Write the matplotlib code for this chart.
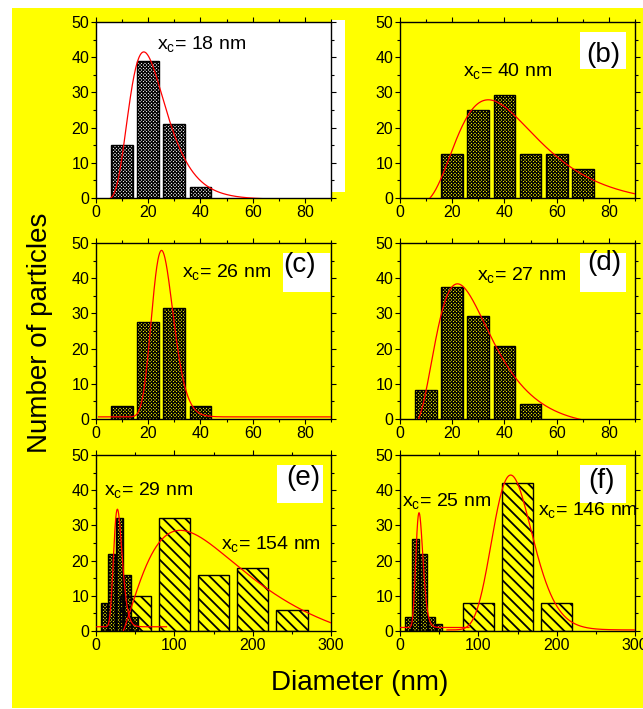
import numpy as np
import matplotlib
matplotlib.use("Agg")
import matplotlib.pyplot as plt
from matplotlib.patches import Rectangle
from matplotlib.ticker import MultipleLocator

plt.rcParams['font.family'] = ['Liberation Sans', 'DejaVu Sans']
plt.rcParams['mathtext.fontset'] = 'custom'
plt.rcParams['mathtext.rm'] = 'Liberation Sans'
plt.rcParams['mathtext.it'] = 'Liberation Sans:italic'

# ---- data ----
# small-particle histograms (bin centres in nm, counts / %)
a_x = [10, 20, 30, 40]
a_y = [15, 39, 21, 3]
b_x = [20, 30, 40, 50, 60, 70]
b_y = [12.5, 25.0, 29.2, 12.5, 12.5, 8.3]
c_x = [10, 20, 30, 40]
c_y = [3.7, 27.5, 31.5, 3.7]
d_x = [10, 20, 30, 40, 50]
d_y = [8.3, 37.5, 29.2, 20.8, 4.2]
e_small_x = [10, 20, 30, 40, 50]
e_small_y = [8, 22, 32, 16, 4]
e_large_x = [50, 100, 150, 200, 250]
e_large_y = [10, 32, 16, 18, 6]
f_small_x = [10, 20, 30, 40, 50]
f_small_y = [4, 26, 22, 4, 2]
f_large_x = [100, 150, 200]
f_large_y = [8, 42, 8]

# log-normal fit curves: peak position, log width, peak value, offset, x range
fit_peak = {'a': 18.3, 'b': 33.8, 'c': 25.1, 'd': 22.0,
            'e1': 27.3, 'e2': 107.5, 'f1': 24.3, 'f2': 141.3}
fit_w = {'a': 0.385, 'b': 0.46, 'c': 0.165, 'd': 0.48,
         'e1': 0.20, 'e2': 0.645, 'f1': 0.187, 'f2': 0.18}
fit_top = {'a': 41.5, 'b': 27.9, 'c': 47.9, 'd': 38.4,
           'e1': 34.6, 'e2': 28.6, 'f1': 33.6, 'f2': 44.3}
fit_y0 = {'a': -0.4, 'b': -1.9, 'c': 0.6, 'd': -2.5,
          'e1': 1.2, 'e2': -8.0, 'f1': 1.0, 'f2': 0.3}
fit_range = {'a': (1, 90), 'b': (1, 90), 'c': (1, 90), 'd': (1, 90),
             'e1': (1, 90), 'e2': (1, 300), 'f1': (1, 88), 'f2': (60, 300)}

xc_labels = {'a': ['18'], 'b': ['40'], 'c': ['26'], 'd': ['27'],
             'e': ['29', '154'], 'f': ['25', '146']}

W, H = 643, 709
YELLOW = '#FFFF00'

fig = plt.figure(figsize=(W / 100, H / 100), dpi=100)
fig.patch.set_facecolor('white')


def px_box(x0, y0, w, h):
    return [x0 / W, 1 - (y0 + h) / H, w / W, h / H]


def fpt(x, y):
    return x / W, 1 - y / H


def white_rect(x0, y0, w, h, z):
    fig.patches.append(Rectangle((x0 / W, 1 - (y0 + h) / H), w / W, h / H,
                                 transform=fig.transFigure, facecolor='white',
                                 edgecolor='none', zorder=z))


fig.patches.append(Rectangle((12 / W, 1 - 708 / H), 631 / W, 700 / H,
                             transform=fig.transFigure, facecolor=YELLOW,
                             edgecolor='none', zorder=-5))
# white strip right of panel (a)
white_rect(331, 20, 14, 172, -1)


def lognorm(key):
    x = np.linspace(fit_range[key][0], fit_range[key][1], 600)
    y0 = fit_y0[key]
    return x, y0 + (fit_top[key] - y0) * np.exp(-np.log(x / fit_peak[key]) ** 2 / (2 * fit_w[key] ** 2))


def hatched_bars(ax, x, y, width, hatch, hlw, z):
    with plt.rc_context({'hatch.linewidth': hlw}):
        bars = ax.bar(x, y, width=width, facecolor='none', edgecolor='black',
                      linewidth=1.0, hatch=hatch, zorder=z)
    for p in bars:
        if hasattr(p, 'set_hatch_linewidth'):
            p.set_hatch_linewidth(hlw)
    return bars


def style(ax, xmax, xmajor):
    ax.set_xlim(0, xmax)
    ax.set_ylim(0, 50)
    ax.xaxis.set_major_locator(MultipleLocator(xmajor))
    ax.xaxis.set_minor_locator(MultipleLocator(xmajor / 2))
    ax.yaxis.set_major_locator(MultipleLocator(10))
    ax.yaxis.set_minor_locator(MultipleLocator(5))
    ax.tick_params(which='both', direction='out', top=True, right=True,
                   labelsize=11.5, width=0.8, pad=1.5)
    ax.tick_params(which='major', length=3.5)
    ax.tick_params(which='minor', length=2)
    for s in ax.spines.values():
        s.set_linewidth(1.0)


lefts = [96, 400]
tops = [22, 243, 455]
AW, AH = 235, 176

axes = {}
keys = [['a', 'b'], ['c', 'd'], ['e', 'f']]
for r in range(3):
    for c in range(2):
        k = keys[r][c]
        ax = fig.add_axes(px_box(lefts[c], tops[r], AW, AH))
        ax.set_facecolor('white' if k == 'a' else 'none')
        axes[k] = ax

small_data = {'a': (a_x, a_y), 'b': (b_x, b_y), 'c': (c_x, c_y), 'd': (d_x, d_y),
              'e': (e_small_x, e_small_y), 'f': (f_small_x, f_small_y)}
large_data = {'e': (e_large_x, e_large_y), 'f': (f_large_x, f_large_y)}

for k, ax in axes.items():
    sx, sy = small_data[k]
    wsmall = 8.3 if k in 'abcd' else 8.5
    hatched_bars(ax, sx, sy, wsmall, 'xxxxxxxxxx', 0.8, 2)
    if k in large_data:
        lx, ly = large_data[k]
        hatched_bars(ax, lx, ly, 40, '\\\\\\', 1.3, 3)
        style(ax, 300, 100)
    else:
        style(ax, 90, 20)

for key in fit_peak:
    x, y = lognorm(key)
    axes[key[0]].plot(x, y, color='red', lw=0.9, zorder=4)

# white label boxes
boxes = {'b': (580, 32, 46, 37), 'c': (283, 253, 47, 39), 'd': (580, 253, 46, 39),
         'e': (277, 465, 46, 38), 'f': (580, 465, 46, 38)}
for k, (bx, by, bw, bh) in boxes.items():
    white_rect(bx, by, bw, bh, 1)

panel_pos = {'b': (603, 62), 'c': (300, 272), 'd': (604, 270), 'e': (303, 485), 'f': (601, 488)}
for k, (tx, ty) in panel_pos.items():
    fig.text(*fpt(tx, ty), '(%s)' % k, fontsize=20, ha='center', va='baseline', zorder=6)

xc_pos = {'a': [(157, 49)], 'b': [(463, 76)], 'c': [(182, 277)], 'd': [(477, 280)],
          'e': [(104, 495), (221, 549)], 'f': [(402, 506), (538, 515)]}
for k, plist in xc_pos.items():
    for (tx, ty), lab in zip(plist, xc_labels[k]):
        fig.text(*fpt(tx, ty), r'x$_\mathrm{c}$= %s nm' % lab, fontsize=14,
                 ha='left', va='baseline', zorder=6)

fig.text(*fpt(360, 690), 'Diameter (nm)', fontsize=20, ha='center', va='baseline')
fig.text(*fpt(40, 333), 'Number of particles', fontsize=20, rotation=90,
         ha='center', va='center')

fig.savefig('out.png', dpi=100)
